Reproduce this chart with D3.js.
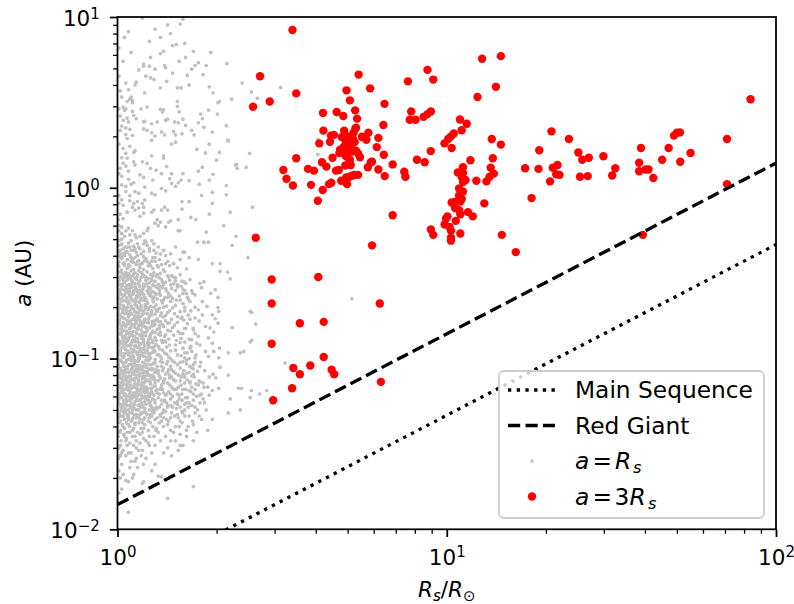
<!DOCTYPE html>
<html><head><meta charset="utf-8">
<script src="https://cdn.jsdelivr.net/npm/d3@7"></script>
<style>body{margin:0;background:#fff}svg text{font-family:"DejaVu Sans",sans-serif}</style>
</head><body><svg id="chart" width="794" height="604"></svg>
<script>
// ---------- data ----------
const xTicks=[1,10,100];
const xTickExp=["0","1","2"];
const yTicks=[0.01,0.1,1,10];
const yTickExp=["\u22122","\u22121","0","1"];
const xMinor=[2,3,4,5,6,7,8,9,20,30,40,50,60,70,80,90];
const yMinor=[0.02,0.03,0.04,0.05,0.06,0.07,0.08,0.09,0.2,0.3,0.4,0.5,0.6,0.7,0.8,0.9,2,3,4,5,6,7,8,9];
const lineR=[1,100];
const mainSeqA=[0.00465,0.465];
const redGiantA=[0.01395,1.395];
const legendLabels=["Main Sequence","Red Giant"];

const redPts=[[3.40,8.4],[2.71,4.5],[5.4,4.6],[3.49,3.57],[2.9,3.2],[2.58,2.98],[4.96,3.72],[5.85,3.82],[5.08,3.25],[6.47,3.1],[4.21,2.74],[4.63,2.78],[4.85,2.63],[5.27,2.84],[5.34,2.54],[6.42,2.33],[4.22,2.16],[5.3,2.25],[4.45,2.02],[4.54,2.04],[4.88,2.16],[5.78,2.1],[5.53,1.99],[6.2,1.96],[4.1,1.82],[4.42,1.86],[5.7,1.91],[6.13,1.73],[4.72,1.6],[5.38,1.59],[6.44,1.56],[4.5,1.5],[3.49,1.49],[4.97,1.52],[5.45,1.51],[5.88,1.41],[4.18,1.41],[4.31,1.33],[6.85,1.37],[4.92,1.35],[5.11,1.36],[5.76,1.32],[3.19,1.27],[3.79,1.29],[3.95,1.26],[4.61,1.26],[4.7,1.27],[6.2,1.28],[5.18,1.18],[5.38,1.19],[5.06,1.16],[6.48,1.17],[3.26,1.13],[4.78,1.1],[4.46,1.07],[4.39,1.05],[4.98,1.05],[3.41,1.03],[3.87,1.04],[4.2,0.97],[4.06,0.84],[6.85,0.69],[2.63,0.51],[5.93,0.46],[4.07,0.3],[2.94,0.29],[2.94,0.21],[6.26,0.21],[3.58,0.161],[4.23,0.164],[2.94,0.122],[4.23,0.102],[3.42,0.088],[3.85,0.091],[3.58,0.081],[4.47,0.086],[4.55,0.081],[3.39,0.067],[6.31,0.073],[2.97,0.057],
[4.91,1.91],[5.01,1.82],[5.12,1.76],[4.87,1.74],[5.19,1.93],[4.98,1.67],[5.15,1.63],[4.8,1.98],[5.25,1.85],[5.05,2.0],[4.74,1.67],[5.3,1.65],[5.21,2.1],[5.28,2.22],[5.54,1.98],[5.93,1.42],[4.92,1.55],[5.08,1.46],[5.25,1.19],[4.95,1.15],
[7.62,4.2],[8.74,4.9],[9.1,4.3],[12.8,5.7],[14.6,5.9],[14.1,3.9],[12.4,3.4],[7.8,2.8],[7.72,2.5],[8.04,2.5],[8.5,2.6],[8.74,2.7],[8.95,2.8],[10.97,2.51],[11.5,2.37],[11.1,2.17],[10.5,2.08],[10.3,2.0],[10.1,1.93],[9.84,1.82],[10.35,1.71],[13.7,1.93],[14.6,1.79],[8.94,1.64],[8.12,1.46],[8.57,1.41],[11.8,1.45],[13.8,1.49],[13.6,1.31],[11.2,1.32],[10.8,1.23],[11.2,1.22],[13.9,1.21],[13.5,1.16],[7.43,1.24],[7.49,1.16],[12.3,1.1],[13.2,1.09],[11.1,1.16],[11.4,1.11],[11.2,1.08],[10.9,0.99],[11.2,0.95],[10.9,0.9],[11.1,0.86],[10.35,0.82],[10.65,0.83],[11.0,0.83],[10.6,0.76],[10.9,0.74],[11.0,0.70],[11.6,0.72],[12.0,0.68],[13.0,0.81],[10.05,0.68],[9.95,0.66],[10.65,0.64],[9.85,0.61],[10.2,0.59],[10.3,0.56],[8.95,0.57],[9.1,0.53],[11.0,0.54],[10.3,0.51],[10.3,0.49],[14.7,0.53],[16.2,0.42],[18.1,0.87],[17.3,1.3],[19.0,1.29],[19.1,1.66],[20.8,2.14],[23.5,1.93],[21.0,1.31],[21.7,1.36],[21.5,1.2],[22.0,1.19],[20.6,1.09],[25.1,1.61],[25.8,1.46],[27.0,1.5],[25.4,1.16],[26.8,1.17],[29.9,1.53],[32.5,1.3],[31.8,1.18],[38.9,1.71],[38.4,1.4],[38.4,1.25],[40.2,1.28],[41.0,1.28],[42.4,1.14],[45.1,1.46],[47.2,1.71],[49.0,2.02],[50.0,2.1],[51.1,2.11],[51.2,1.42],[55.0,1.6],[71.0,1.93],[71.0,1.05],[83.7,3.30],[39.4,0.53]];

const grayPts=[[1.19,9.87],[1.58,9.7],[1.42,9.0],[1.55,9.1],[1.05,7.6],[1.01,6.6],[1.47,6.8],[1.51,6.9],[1.38,6.3],[1.35,6.1],[1.92,6.2],[1.26,5.8],[1.61,5.8],[1.2,5.3],[1.2,5.15],[1.25,5.15],[1.39,5.2],[1.4,5.05],[1.54,5.5],[1.76,5.4],[1.72,5.2],[1.68,4.95],[1.86,5.2],[2.15,5.35],[1.16,4.9],[1.3,4.95],[1.47,4.7],[1.22,4.5],[1.26,4.4],[1.29,4.3],[1.63,4.55],[1.41,4.2],[1.14,4.15],[1.13,4.0],[1.06,4.1],[1.65,4.0],[1.35,3.85],[1.52,3.85],[1.56,3.85],[2.39,4.1],[1.02,3.7],[1.08,3.75],[1.21,3.6],[1.95,3.6],[1.1,3.4],[1.09,3.3],[1.11,3.25],[1.07,3.2],[1.11,3.15],[2.22,3.3],[2.04,3.2],[2.02,3.15],[1.52,3.2],[1.52,3.0],[1.04,2.97],[1.06,2.9],[1.05,2.84],[1.11,2.8],[1.18,2.9],[1.23,2.97],[1.35,2.88],[1.38,2.86],[1.37,2.78],[1.54,2.78],[1.89,2.85],[1.79,2.7],[1.81,2.54],[2.01,2.7],[1.02,2.63],[1.04,2.48],[1.07,2.56],[1.08,2.43],[1.12,2.65],[1.14,2.54],[1.2,2.43],[1.21,2.45],[1.27,2.37],[1.32,2.43],[1.4,2.48],[1.42,2.52],[1.49,2.43],[1.53,2.4],[1.58,2.52],[1.61,2.32],[1.68,2.17],[1.76,2.4],[1.83,2.26],[1.94,2.12],[2.14,2.31],[1.02,2.17],[1.06,2.24],[1.09,2.2],[1.2,2.21],[1.23,2.17],[1.27,2.1],[1.3,2.01],[1.36,2.12],[1.39,2.04],[1.48,2.14],[1.5,2.04],[1.57,2.07],[1.71,2.04],[1.11,2.03],[1.07,1.94],[2.16,1.9],[2.55,3.64],[3.13,3.87],[2.66,3.34],
[1.27,1.9],[1.46,1.8],[1.5,1.85],[1.9,1.8],[2.17,1.88],[1.13,1.65],[1.12,1.61],[1.06,1.59],[1.03,1.5],[1.07,1.49],[1.74,1.68],[2.04,1.61],[1.38,1.54],[1.38,1.49],[1.27,1.54],[1.19,1.42],[1.12,1.42],[1.13,1.36],[1.04,1.39],[1.06,1.34],[1.23,1.39],[1.26,1.3],[1.31,1.27],[1.36,1.21],[1.46,1.21],[1.41,1.33],[1.81,1.32],[1.76,1.25],[2.28,1.36],[2.31,1.3],[2.46,1.32],[1.58,1.21],[1.01,1.21],[1.03,1.17],[1.08,1.12],[1.17,1.19],[1.2,1.15],[1.28,1.11],[1.44,1.13],[1.46,1.06],[1.53,1.07],[1.56,1.11],[1.5,1.02],[1.65,1.1],[1.9,1.11],[1.1,1.05],[1.12,1.07],[1.03,1.04],[1.06,1.02],[1.21,1.01],[1.36,0.99],[1.4,0.96],[1.77,1.05],[2.14,1.03],[2.14,0.91],[1.94,0.94],[1.13,0.95],[1.16,0.93],[1.27,0.93],[1.3,0.91],[1.01,0.81],[1.04,0.79],[1.09,0.84],[1.12,0.81],[1.15,0.83],[1.19,0.81],[1.21,0.85],[1.2,0.77],[1.16,0.76],[1.11,0.77],[1.13,0.74],[1.27,0.72],[1.29,0.74],[1.39,0.77],[1.36,0.74],[1.42,0.74],[1.57,0.83],[1.65,0.83],[1.57,0.75],[1.94,0.81],[2.2,0.72],[1.2,0.71],[1.17,0.68],[1.32,0.65],[1.35,0.63],[1.3,0.62],[1.33,0.6],[1.45,0.64],[1.53,0.65],[1.67,0.67],[1.73,0.65],[1.01,0.6],[1.03,0.59],[1.06,0.56],[1.03,0.54],[1.08,0.58],[1.11,0.56],[1.09,0.53],[1.14,0.51],[1.17,0.52],[1.2,0.54],[1.23,0.56],[1.24,0.58],[1.4,0.59],[1.43,0.63],[1.53,0.56],[1.55,0.56],[1.86,0.55],[2.29,0.52],[1.01,0.49],[1.03,0.47],[1.06,0.45],[1.02,0.43],[1.04,0.41],[1.07,0.42],[1.09,0.45],[1.01,0.4],[1.03,0.39],[1.12,0.43],[1.16,0.45],[1.2,0.47],[1.21,0.49],[1.27,0.49],[1.33,0.45],[1.29,0.43],[1.35,0.41],[1.4,0.4],[1.45,0.41],[1.75,0.48],[1.83,0.48],[1.89,0.48],[1.58,0.42],[1.65,0.39],[1.76,0.38],[1.94,0.36],[2.05,0.36],[2.23,0.46],[2.49,0.39],[2.52,1.59],[1.11,0.38],[1.15,0.37],[1.19,0.36],[1.23,0.37],[1.26,0.35],[1.3,0.39],[1.32,0.35],[1.4,0.36],[1.48,0.36],
[1.005,0.65],[1.02,0.7],[1.04,0.66],[1.07,0.72],[1.01,0.9],[1.03,0.85],[1.06,0.95],[1.09,0.9],[1.02,1.3],[1.08,1.25],[1.01,1.8],[1.04,1.7],[1.09,1.75],[1.03,2.3],[1.06,2.05],[1.01,2.9],[1.03,3.4],[1.01,4.5],[1.04,5.5],[1.1,6.2],[1.08,8.2],[1.3,8.5],[1.25,7.2],[1.35,7.6],[1.45,8.0],[1.6,7.0],[1.7,6.3],[1.82,4.6],[1.9,3.9],[1.85,1.6],[2.0,1.45],[1.95,1.2],[2.1,0.6],[1.9,0.7],[1.8,0.9],
[2.57,0.77],[2.3,1.37],[4.06,1.93],[4.06,1.57],[2.56,0.186],[2.63,0.159],[2.56,0.128],[2.53,0.125],[2.42,0.11],[2.36,0.108],[3.23,0.094],[5.15,0.224],[2.38,0.067],[2.55,0.065],[2.7,0.062],[2.84,0.065],[2.53,0.059],
[2.05,0.324],[2.16,0.321],[2.2,0.293],[1.78,0.276],[1.83,0.282],[1.61,0.276],[1.46,0.306],[1.5,0.298],[1.98,0.253],[2.02,0.228],[1.92,0.241],[1.69,0.241],[1.72,0.236],[1.81,0.216],[1.64,0.223],[1.66,0.216],[2.02,0.199],[2.03,0.189],[1.87,0.202],[1.76,0.193],[1.81,0.18],[1.72,0.173],[1.77,0.166],[1.94,0.18],[1.98,0.171],[2.53,0.189],[2.23,0.152],[2.02,0.161],[1.91,0.151],[1.96,0.143],[1.85,0.154],[1.7,0.147],[1.76,0.135],[1.68,0.129],[1.74,0.123],[1.89,0.132],[1.94,0.123],[2.04,0.115],[1.96,0.11],[2.03,0.101],[2.17,0.108],[1.85,0.11],[1.89,0.103],[1.72,0.101],[1.79,0.095],[1.7,0.092],[2.05,0.089],[1.95,0.081],[1.99,0.077],[2.17,0.08],[2.33,0.067],[2.03,0.067],[1.94,0.065],[1.78,0.073],[1.83,0.068],[1.7,0.081],[1.66,0.073],
[2.2,0.058],[2.36,0.05],[2.17,0.048],[1.94,0.044],[1.88,0.038],[1.74,0.037],[1.7,0.033],[1.55,0.031],[1.42,0.03],[1.33,0.0205],[1.36,0.0203],[1.27,0.022],[1.19,0.0186],[1.11,0.02],[1.06,0.0193],[1.03,0.0172],[1.7,0.0178],[1.42,0.0152],[1.08,0.0126],[1.01,0.0163],
[1.52,0.062],[1.58,0.066],[1.63,0.059],[1.67,0.064],[1.74,0.06],[1.82,0.058],[1.9,0.061],[1.55,0.052],[1.62,0.055],[1.72,0.052],[1.78,0.055],[1.86,0.05],[1.53,0.045],[1.58,0.048],[1.65,0.046],[1.72,0.048],[1.8,0.044],[1.57,0.042],[1.64,0.04],[1.7,0.041],[1.48,0.037],[1.55,0.036],[1.62,0.035],[1.45,0.033],[1.53,0.029],[1.38,0.028],[1.46,0.027],[1.55,0.074],[1.6,0.078],[1.65,0.083],[1.7,0.087],[1.78,0.09],[1.84,0.085],[1.9,0.078],[1.82,0.072],[1.88,0.068],[1.55,0.095],[1.6,0.108],[1.68,0.11],[1.78,0.12],[1.65,0.13],[1.72,0.14],[1.6,0.15],[1.66,0.17],[1.72,0.2],[1.68,0.25],[1.8,0.26],[1.6,0.28],
[1.01,0.022],[1.04,0.021],[1.09,0.023],[1.13,0.025],[1.03,0.028],[1.16,0.029],[1.2,0.024],
[1.01,0.37],[1.03,0.385],[1.05,0.365],[1.07,0.38],[1.1,0.37],[1.13,0.39],[1.16,0.375],[1.19,0.365],[1.22,0.385],[1.27,0.372],[1.34,0.38],[1.42,0.37],[1.02,0.41],[1.06,0.425],[1.09,0.405],[1.14,0.42],[1.18,0.41],[1.25,0.425],[1.31,0.415],[1.38,0.43],[1.01,0.46],[1.04,0.44],[1.08,0.475],[1.12,0.455],[1.17,0.44],[1.23,0.46],[1.29,0.47],[1.5,0.45],[1.55,0.38],[1.6,0.42],[1.48,0.36],
[1.005,0.355],[1.04,0.36],[1.08,0.355],[1.12,0.365],[1.17,0.355],[1.21,0.375],[1.25,0.36],[1.3,0.37],[1.36,0.355],[1.02,0.395],[1.05,0.4],[1.1,0.39],[1.15,0.4],[1.2,0.395],[1.28,0.39],[1.01,0.425],[1.05,0.41],[1.1,0.43],[1.13,0.44],[1.2,0.425],[1.25,0.44],[1.03,0.465],[1.07,0.45],[1.15,0.47],[1.22,0.48],[1.03,0.5],[1.1,0.49],[1.05,0.52],[1.13,0.53],[1.01,0.56],
[1.01,0.345],[1.03,0.33],[1.05,0.352],[1.07,0.338],[1.09,0.347],[1.12,0.333],[1.14,0.355],[1.17,0.342],[1.2,0.332],[1.24,0.349],[1.28,0.337],[1.33,0.344],[1.38,0.331],[1.44,0.35],[1.52,0.34],[1.62,0.335],
[1.00,0.315],[1.02,0.302],[1.025,0.325],[1.04,0.31],[1.06,0.32],[1.065,0.303],[1.08,0.314],[1.1,0.326],[1.11,0.305],[1.13,0.318],[1.15,0.309],[1.16,0.327],[1.19,0.313],[1.21,0.302],[1.23,0.322],[1.26,0.31],[1.29,0.319],[1.31,0.304],[1.35,0.315],[1.39,0.323],[1.42,0.306],[1.55,0.31],
[1.01,0.285],[1.02,0.272],[1.035,0.293],[1.05,0.279],[1.07,0.288],[1.085,0.271],[1.09,0.297],[1.11,0.282],[1.13,0.274],[1.14,0.291],[1.16,0.28],[1.18,0.298],[1.2,0.273],[1.22,0.287],[1.25,0.277],[1.27,0.294],[1.3,0.283],[1.33,0.272],[1.36,0.29],[1.4,0.279],[1.44,0.287],[1.48,0.274],[1.57,0.284],[1.66,0.29],
[1.0,0.26],[1.015,0.248],[1.03,0.265],[1.045,0.252],[1.06,0.262],[1.075,0.247],[1.09,0.258],[1.1,0.268],[1.12,0.25],[1.135,0.261],[1.15,0.246],[1.17,0.264],[1.19,0.253],[1.21,0.266],[1.23,0.249],[1.26,0.259],[1.28,0.247],[1.31,0.263],[1.34,0.252],[1.37,0.26],[1.41,0.249],[1.46,0.257],[1.52,0.262],[1.6,0.25],
[1.005,0.232],[1.02,0.241],[1.03,0.223],[1.05,0.236],[1.065,0.227],[1.08,0.243],[1.095,0.229],[1.11,0.238],[1.13,0.222],[1.145,0.234],[1.16,0.244],[1.18,0.226],[1.2,0.237],[1.22,0.224],[1.24,0.24],[1.27,0.23],[1.3,0.242],[1.32,0.223],[1.35,0.235],[1.39,0.227],[1.43,0.239],[1.47,0.225],[1.54,0.233],[1.63,0.228],
[1.0,0.21],[1.015,0.199],[1.025,0.216],[1.04,0.205],[1.055,0.218],[1.07,0.2],[1.085,0.212],[1.1,0.203],[1.115,0.217],[1.13,0.207],[1.15,0.198],[1.165,0.213],[1.18,0.204],[1.2,0.219],[1.215,0.2],[1.235,0.211],[1.26,0.202],[1.285,0.215],[1.31,0.206],[1.34,0.197],[1.37,0.212],[1.41,0.203],[1.45,0.216],[1.5,0.205],[1.58,0.21],
[1.005,0.188],[1.02,0.179],[1.035,0.194],[1.05,0.183],[1.06,0.196],[1.08,0.178],[1.09,0.19],[1.105,0.182],[1.12,0.195],[1.14,0.186],[1.155,0.177],[1.17,0.192],[1.19,0.181],[1.21,0.193],[1.23,0.184],[1.25,0.178],[1.27,0.19],[1.3,0.182],[1.33,0.195],[1.36,0.185],[1.4,0.179],[1.44,0.191],[1.49,0.183],[1.55,0.188],[1.64,0.18],
[1.0,0.168],[1.012,0.16],[1.025,0.174],[1.04,0.163],[1.055,0.171],[1.07,0.159],[1.08,0.175],[1.095,0.166],[1.11,0.158],[1.125,0.172],[1.14,0.162],[1.16,0.169],[1.175,0.176],[1.19,0.161],[1.21,0.17],[1.23,0.163],[1.25,0.175],[1.275,0.165],[1.3,0.159],[1.32,0.171],[1.35,0.164],[1.38,0.175],[1.42,0.161],[1.46,0.17],[1.52,0.163],[1.59,0.168],
[1.005,0.149],[1.02,0.142],[1.03,0.155],[1.045,0.146],[1.06,0.153],[1.075,0.141],[1.09,0.15],[1.1,0.157],[1.115,0.144],[1.13,0.152],[1.145,0.14],[1.16,0.156],[1.18,0.147],[1.195,0.142],[1.21,0.154],[1.23,0.145],[1.25,0.151],[1.27,0.141],[1.29,0.156],[1.32,0.148],[1.35,0.143],[1.38,0.154],[1.42,0.146],[1.47,0.152],[1.53,0.144],[1.61,0.15],
[1.0,0.132],[1.015,0.126],[1.028,0.138],[1.04,0.129],[1.055,0.136],[1.07,0.127],[1.085,0.134],[1.1,0.139],[1.11,0.128],[1.125,0.135],[1.14,0.13],[1.155,0.125],[1.17,0.137],[1.185,0.131],[1.2,0.126],[1.22,0.136],[1.24,0.129],[1.26,0.138],[1.28,0.127],[1.3,0.133],[1.33,0.139],[1.36,0.128],[1.39,0.135],[1.43,0.13],[1.48,0.137],[1.56,0.131],
[1.005,0.118],[1.02,0.112],[1.035,0.123],[1.05,0.115],[1.06,0.121],[1.075,0.111],[1.09,0.119],[1.105,0.124],[1.12,0.113],[1.135,0.12],[1.15,0.116],[1.165,0.11],[1.18,0.122],[1.195,0.114],[1.21,0.119],[1.23,0.111],[1.25,0.123],[1.27,0.116],[1.29,0.112],[1.31,0.121],[1.34,0.114],[1.37,0.124],[1.41,0.117],[1.45,0.111],[1.5,0.12],[1.58,0.115],[1.67,0.118],
[1.0,0.104],[1.012,0.099],[1.025,0.108],[1.04,0.101],[1.05,0.107],[1.065,0.098],[1.08,0.105],[1.095,0.1],[1.11,0.109],[1.12,0.102],[1.135,0.097],[1.15,0.106],[1.165,0.1],[1.18,0.109],[1.2,0.103],[1.22,0.098],[1.24,0.107],[1.26,0.101],[1.28,0.109],[1.3,0.099],[1.33,0.105],[1.36,0.1],[1.39,0.108],[1.43,0.102],[1.47,0.097],[1.52,0.105],[1.6,0.101],
[1.005,0.093],[1.02,0.088],[1.03,0.096],[1.045,0.09],[1.06,0.095],[1.07,0.087],[1.085,0.092],[1.1,0.097],[1.11,0.089],[1.125,0.094],[1.14,0.087],[1.155,0.096],[1.17,0.091],[1.19,0.086],[1.205,0.094],[1.22,0.089],[1.24,0.097],[1.26,0.092],[1.28,0.087],[1.3,0.095],[1.32,0.09],[1.35,0.096],[1.38,0.088],[1.41,0.093],[1.45,0.09],[1.49,0.095],[1.55,0.088],[1.62,0.093],
[1.0,0.082],[1.015,0.078],[1.025,0.085],[1.04,0.08],[1.055,0.086],[1.065,0.077],[1.08,0.083],[1.095,0.079],[1.105,0.086],[1.12,0.081],[1.135,0.077],[1.15,0.084],[1.165,0.079],[1.18,0.086],[1.195,0.082],[1.21,0.077],[1.23,0.084],[1.25,0.08],[1.27,0.086],[1.29,0.078],[1.31,0.083],[1.34,0.079],[1.37,0.085],[1.4,0.081],[1.44,0.077],[1.48,0.084],[1.53,0.08],[1.59,0.085],[1.68,0.079],
[1.005,0.073],[1.02,0.069],[1.03,0.076],[1.045,0.071],[1.06,0.075],[1.07,0.068],[1.085,0.073],[1.1,0.07],[1.115,0.076],[1.13,0.071],[1.145,0.067],[1.16,0.074],[1.175,0.07],[1.19,0.076],[1.205,0.072],[1.22,0.068],[1.24,0.075],[1.26,0.071],[1.28,0.076],[1.3,0.069],[1.33,0.074],[1.36,0.07],[1.39,0.076],[1.42,0.072],[1.46,0.068],[1.5,0.074],[1.56,0.07],[1.63,0.075],[1.73,0.071],
[1.0,0.064],[1.012,0.061],[1.025,0.067],[1.04,0.063],[1.05,0.066],[1.065,0.06],[1.08,0.065],[1.09,0.062],[1.105,0.067],[1.12,0.063],[1.135,0.06],[1.15,0.066],[1.165,0.062],[1.18,0.067],[1.195,0.064],[1.21,0.06],[1.23,0.065],[1.25,0.062],[1.27,0.067],[1.29,0.061],[1.31,0.065],[1.34,0.062],[1.37,0.066],[1.4,0.061],[1.43,0.064],[1.47,0.06],[1.51,0.066],[1.57,0.062],[1.65,0.065],[1.78,0.061],
[1.005,0.057],[1.02,0.054],[1.03,0.059],[1.045,0.055],[1.06,0.058],[1.07,0.053],[1.085,0.057],[1.1,0.055],[1.11,0.059],[1.125,0.054],[1.14,0.058],[1.155,0.053],[1.17,0.057],[1.185,0.055],[1.2,0.059],[1.22,0.054],[1.24,0.057],[1.26,0.053],[1.28,0.058],[1.3,0.055],[1.33,0.059],[1.36,0.054],[1.39,0.057],[1.42,0.053],[1.45,0.058],[1.49,0.055],[1.54,0.058],[1.6,0.054],[1.7,0.057],
[1.0,0.05],[1.015,0.048],[1.025,0.052],[1.04,0.049],[1.055,0.051],[1.07,0.047],[1.08,0.05],[1.095,0.052],[1.11,0.048],[1.125,0.051],[1.14,0.047],[1.16,0.05],[1.175,0.052],[1.19,0.048],[1.21,0.051],[1.23,0.047],[1.25,0.05],[1.27,0.052],[1.29,0.048],[1.32,0.051],[1.35,0.047],[1.38,0.05],[1.42,0.052],[1.46,0.048],[1.51,0.051],[1.57,0.049],[1.64,0.052],
[1.005,0.045],[1.02,0.043],[1.035,0.046],[1.05,0.044],[1.065,0.042],[1.08,0.046],[1.1,0.043],[1.115,0.045],[1.13,0.042],[1.15,0.046],[1.17,0.044],[1.19,0.042],[1.21,0.045],[1.24,0.043],[1.27,0.046],[1.3,0.044],[1.34,0.042],[1.38,0.045],[1.43,0.043],[1.49,0.046],[1.55,0.043],
[1.0,0.04],[1.02,0.038],[1.035,0.041],[1.05,0.039],[1.07,0.037],[1.09,0.04],[1.11,0.038],[1.13,0.041],[1.15,0.037],[1.18,0.039],[1.21,0.041],[1.24,0.038],[1.28,0.04],[1.33,0.037],[1.38,0.04],[1.45,0.038],
[1.005,0.035],[1.025,0.033],[1.045,0.036],[1.065,0.034],[1.09,0.032],[1.11,0.035],[1.14,0.033],[1.17,0.036],[1.2,0.034],[1.24,0.032],[1.29,0.035],[1.35,0.033],
[1.01,0.03],[1.04,0.029],[1.07,0.031],[1.1,0.028],[1.14,0.03],[1.19,0.029],[1.25,0.031],
[1.005,0.026],[1.03,0.024],[1.06,0.027],[1.1,0.025],[1.15,0.023],[1.22,0.026],[1.3,0.024],
[1.02,0.02],[1.08,0.019],[1.12,0.021],[1.2,0.019],
[1.48,0.3],[1.52,0.27],[1.58,0.255],[1.62,0.24],[1.55,0.22],[1.6,0.2],[1.67,0.19],[1.57,0.175],[1.63,0.16],[1.7,0.15],[1.55,0.14],[1.6,0.125],[1.66,0.115],[1.73,0.105],[1.62,0.098],[1.68,0.088],[1.75,0.084],[1.58,0.081],[1.66,0.072],[1.72,0.066],[1.8,0.062],[1.61,0.059],[1.68,0.053],[1.75,0.05],[1.84,0.055],[1.6,0.046],[1.69,0.043],[1.77,0.046],[1.54,0.04],[1.62,0.038],[1.5,0.033],[1.58,0.031],
[1.01,0.295],[1.03,0.318],[1.045,0.285],[1.06,0.31],[1.075,0.296],[1.1,0.289],[1.12,0.312],[1.145,0.299],[1.17,0.286],[1.2,0.307],[1.24,0.293],[1.28,0.306],[1.34,0.297],
[1.008,0.27],[1.025,0.256],[1.04,0.276],[1.058,0.25],[1.07,0.268],[1.09,0.246],[1.105,0.262],[1.125,0.276],[1.14,0.255],[1.16,0.27],[1.18,0.246],[1.2,0.261],[1.225,0.274],[1.25,0.252],[1.29,0.267],[1.33,0.258],[1.38,0.27],
[1.012,0.226],[1.028,0.238],[1.042,0.219],[1.06,0.242],[1.072,0.214],[1.088,0.235],[1.105,0.222],[1.12,0.244],[1.138,0.216],[1.155,0.23],[1.172,0.219],[1.19,0.242],[1.21,0.229],[1.23,0.215],[1.255,0.234],[1.28,0.221],[1.31,0.237],[1.36,0.218],[1.42,0.228],
[1.005,0.195],[1.018,0.207],[1.035,0.186],[1.048,0.2],[1.065,0.19],[1.078,0.209],[1.093,0.183],[1.11,0.197],[1.128,0.188],[1.142,0.204],[1.16,0.185],[1.178,0.199],[1.195,0.19],[1.215,0.207],[1.24,0.194],[1.265,0.185],[1.29,0.2],[1.32,0.189],[1.38,0.2],
[1.002,0.155],[1.015,0.168],[1.03,0.149],[1.042,0.173],[1.058,0.158],[1.068,0.145],[1.082,0.163],[1.098,0.152],[1.112,0.169],[1.128,0.158],[1.142,0.174],[1.158,0.151],[1.172,0.165],[1.188,0.155],[1.205,0.167],[1.22,0.152],[1.245,0.162],[1.27,0.155],[1.3,0.167],[1.34,0.156],[1.4,0.166],
[1.008,0.128],[1.022,0.141],[1.036,0.133],[1.05,0.124],[1.066,0.14],[1.08,0.13],[1.094,0.121],[1.108,0.137],[1.122,0.127],[1.138,0.143],[1.152,0.131],[1.168,0.122],[1.182,0.139],[1.198,0.13],[1.215,0.142],[1.235,0.124],[1.255,0.134],[1.28,0.145],[1.31,0.128],[1.35,0.137],[1.4,0.125],
[1.004,0.112],[1.018,0.106],[1.032,0.116],[1.046,0.103],[1.058,0.113],[1.072,0.119],[1.086,0.108],[1.1,0.114],[1.114,0.104],[1.128,0.118],[1.142,0.109],[1.158,0.101],[1.172,0.115],[1.188,0.106],[1.205,0.113],[1.222,0.102],[1.24,0.116],[1.262,0.107],[1.29,0.117],[1.32,0.105],[1.37,0.112],
[1.006,0.091],[1.02,0.097],[1.034,0.085],[1.048,0.094],[1.062,0.089],[1.078,0.099],[1.09,0.084],[1.104,0.092],[1.118,0.098],[1.132,0.085],[1.148,0.091],[1.162,0.099],[1.178,0.088],[1.192,0.095],[1.21,0.084],[1.23,0.092],[1.25,0.099],[1.27,0.087],[1.295,0.094],[1.33,0.085],[1.37,0.095],[1.43,0.086],
[1.002,0.076],[1.016,0.081],[1.028,0.072],[1.042,0.078],[1.056,0.083],[1.07,0.073],[1.084,0.079],[1.098,0.075],[1.112,0.082],[1.126,0.074],[1.14,0.08],[1.156,0.076],[1.17,0.082],[1.186,0.072],[1.2,0.079],[1.218,0.074],[1.236,0.081],[1.256,0.073],[1.278,0.08],[1.3,0.075],[1.33,0.082],[1.38,0.074],[1.44,0.08],
[1.008,0.067],[1.022,0.063],[1.036,0.069],[1.05,0.061],[1.064,0.066],[1.078,0.071],[1.092,0.064],[1.106,0.06],[1.12,0.068],[1.136,0.062],[1.15,0.07],[1.166,0.065],[1.18,0.061],[1.196,0.069],[1.212,0.063],[1.23,0.067],[1.25,0.06],[1.27,0.064],[1.29,0.069],[1.32,0.063],[1.36,0.068],[1.41,0.062],[1.48,0.066],
[1.004,0.055],[1.018,0.059],[1.032,0.052],[1.046,0.057],[1.06,0.054],[1.074,0.06],[1.088,0.053],[1.102,0.058],[1.118,0.051],[1.132,0.056],[1.148,0.06],[1.162,0.054],[1.178,0.058],[1.194,0.052],[1.21,0.056],[1.23,0.06],[1.25,0.055],[1.275,0.051],[1.3,0.057],[1.34,0.052],[1.39,0.056],[1.45,0.053],[1.52,0.056],
[1.01,0.047],[1.026,0.05],[1.042,0.046],[1.058,0.049],[1.075,0.045],[1.09,0.048],[1.108,0.044],[1.125,0.047],[1.142,0.05],[1.16,0.045],[1.18,0.048],[1.2,0.044],[1.22,0.048],[1.25,0.045],[1.28,0.049],[1.32,0.045],[1.37,0.048],[1.41,0.044],
[1.015,0.322],[1.05,0.3],[1.085,0.308],[1.13,0.296],[1.18,0.32],[1.22,0.3],[1.27,0.285],[1.32,0.31],[1.37,0.28],[1.43,0.3],[1.5,0.285],
[1.01,0.252],[1.035,0.27],[1.065,0.255],[1.1,0.275],[1.13,0.262],[1.165,0.25],[1.2,0.268],[1.24,0.262],[1.28,0.27],[1.35,0.265],[1.4,0.256],[1.45,0.27],[1.5,0.25],[1.56,0.265],
[1.02,0.219],[1.04,0.232],[1.075,0.22],[1.1,0.236],[1.14,0.226],[1.17,0.237],[1.21,0.22],[1.26,0.24],[1.29,0.228],[1.34,0.242],[1.38,0.22],[1.45,0.232],[1.51,0.22],[1.58,0.24],
[1.01,0.18],[1.04,0.192],[1.07,0.184],[1.1,0.198],[1.13,0.178],[1.16,0.195],[1.2,0.184],[1.23,0.199],[1.27,0.18],[1.31,0.193],[1.35,0.178],[1.42,0.186],[1.47,0.198],[1.52,0.176],[1.6,0.19],
[1.01,0.162],[1.035,0.156],[1.07,0.167],[1.1,0.16],[1.135,0.166],[1.17,0.158],[1.2,0.162],[1.24,0.17],[1.28,0.16],[1.33,0.165],[1.37,0.158],[1.44,0.162],[1.49,0.157],[1.56,0.172],
[1.01,0.139],[1.035,0.145],[1.06,0.131],[1.09,0.143],[1.12,0.134],[1.15,0.148],[1.19,0.136],[1.23,0.15],[1.26,0.131],[1.3,0.142],[1.34,0.15],[1.4,0.138],[1.45,0.145],[1.51,0.128],[1.58,0.14],
[1.012,0.121],[1.04,0.118],[1.065,0.126],[1.1,0.12],[1.13,0.126],[1.16,0.117],[1.2,0.123],[1.24,0.12],[1.28,0.124],[1.33,0.118],[1.39,0.127],[1.44,0.12],[1.5,0.112],[1.55,0.124],[1.63,0.108],
[1.01,0.109],[1.035,0.103],[1.07,0.108],[1.1,0.103],[1.13,0.11],[1.17,0.104],[1.21,0.108],[1.25,0.103],[1.3,0.11],[1.35,0.103],[1.41,0.106],[1.45,0.1],[1.56,0.104],[1.65,0.1],
[1.012,0.087],[1.04,0.093],[1.07,0.09],[1.1,0.085],[1.13,0.091],[1.16,0.087],[1.2,0.09],[1.245,0.087],[1.28,0.093],[1.31,0.086],[1.36,0.09],[1.42,0.096],[1.46,0.086],[1.52,0.092],[1.58,0.096],[1.66,0.09],[1.72,0.095],
[1.008,0.079],[1.035,0.082],[1.06,0.079],[1.09,0.077],[1.125,0.084],[1.16,0.08],[1.19,0.078],[1.225,0.08],[1.265,0.077],[1.3,0.083],[1.35,0.077],[1.42,0.083],[1.46,0.078],[1.5,0.082],[1.56,0.078],[1.62,0.082],[1.71,0.078],[1.77,0.074],
[1.012,0.07],[1.038,0.074],[1.065,0.07],[1.095,0.074],[1.125,0.068],[1.155,0.072],[1.19,0.07],[1.225,0.074],[1.26,0.067],[1.3,0.072],[1.35,0.066],[1.38,0.072],[1.44,0.07],[1.48,0.075],[1.53,0.068],[1.6,0.072],[1.68,0.068],[1.76,0.07],
[1.01,0.062],[1.032,0.065],[1.058,0.062],[1.086,0.068],[1.115,0.061],[1.145,0.064],[1.175,0.062],[1.205,0.066],[1.24,0.063],[1.28,0.062],[1.32,0.066],[1.38,0.063],[1.45,0.062],[1.49,0.066],[1.54,0.061],[1.61,0.066],[1.7,0.062],
[1.01,0.058],[1.04,0.053],[1.065,0.056],[1.095,0.059],[1.12,0.053],[1.15,0.057],[1.19,0.053],[1.22,0.058],[1.26,0.056],[1.31,0.052],[1.36,0.057],[1.41,0.055],[1.47,0.052],[1.52,0.054],[1.57,0.057],[1.65,0.055],
[1.02,0.046],[1.05,0.048],[1.08,0.044],[1.11,0.05],[1.14,0.045],[1.17,0.047],[1.21,0.049],[1.26,0.047],[1.3,0.05],[1.35,0.046],[1.4,0.049],[1.45,0.045],[1.52,0.047],[1.6,0.05],
[1.01,0.042],[1.04,0.04],[1.08,0.041],[1.12,0.039],[1.16,0.042],[1.2,0.039],[1.26,0.042],[1.31,0.039],[1.36,0.043],[1.42,0.041],[1.5,0.04],
[1.015,0.037],[1.05,0.035],[1.09,0.037],[1.13,0.035],[1.19,0.037],[1.25,0.035],[1.31,0.038],[1.4,0.035],
[1.02,0.031],[1.06,0.033],[1.12,0.031],[1.17,0.032],[1.22,0.033],[1.3,0.031],
[1.02,0.027],[1.08,0.028],[1.14,0.026],[1.18,0.027],[1.27,0.028]];

// ---------- layout ----------
const W=794,H=604;
const M={left:117.5,right:776,top:17,bottom:529.3};
const FS_TICK=21.5, FS_SUP=15, FS_LAB=21.5, FS_LEG=23.3;
const x=d3.scaleLog().domain([1,100]).range([M.left,M.right]);
const y=d3.scaleLog().domain([0.01,10]).range([M.bottom,M.top]);
const svg=d3.select("#chart");
svg.append("rect").attr("width",W).attr("height",H).attr("fill","#fff");
svg.append("defs").append("clipPath").attr("id","clip").append("rect")
  .attr("x",M.left).attr("y",M.top).attr("width",M.right-M.left).attr("height",M.bottom-M.top);
const plot=svg.append("g").attr("clip-path","url(#clip)");

// scatter (drawn below lines, like matplotlib zorder)
plot.append("g").selectAll("circle").data(grayPts).join("circle")
  .attr("cx",d=>x(d[0])).attr("cy",d=>y(d[1])).attr("r",1.85).attr("fill","#c0c0c0");
plot.append("g").selectAll("circle").data(redPts).join("circle")
  .attr("cx",d=>x(d[0])).attr("cy",d=>y(d[1])).attr("r",4.2).attr("fill","#ff0000");

const line=d3.line().x(d=>x(d[0])).y(d=>y(d[1]));
const msData=lineR.map((r,i)=>[r,mainSeqA[i]]);
const rgData=lineR.map((r,i)=>[r,redGiantA[i]]);
plot.append("path").datum(msData).attr("d",line).attr("fill","none")
  .attr("stroke","#000").attr("stroke-width",3.3).attr("stroke-dasharray","3.3,5.4");
plot.append("path").datum(rgData).attr("d",line).attr("fill","none")
  .attr("stroke","#000").attr("stroke-width",3.3).attr("stroke-dasharray","12.2,5.3");

// axes
function styleAxis(g){g.attr("font-family","DejaVu Sans").attr("font-size",FS_TICK);g.select(".domain").remove();}
const gx=svg.append("g").attr("transform",`translate(0,${M.bottom})`)
  .call(d3.axisBottom(x).tickValues(xTicks).tickSize(7.7).tickSizeOuter(0).tickFormat(()=>""));
styleAxis(gx);
gx.selectAll(".tick line").attr("stroke-width",1.76);
gx.selectAll(".tick text").each(function(d,i){
  const t=d3.select(this).attr("y",35.7).attr("dy",0).attr("fill","#000");
  t.append("tspan").text("10");
  t.append("tspan").attr("font-size",FS_SUP).attr("dy",-8).text(xTickExp[i]);
});
const gxm=svg.append("g").attr("transform",`translate(0,${M.bottom})`)
  .call(d3.axisBottom(x).tickValues(xMinor).tickSize(4.4).tickSizeOuter(0).tickFormat(()=>""));
styleAxis(gxm); gxm.selectAll(".tick line").attr("stroke-width",1.3); gxm.selectAll("text").remove();

const gy=svg.append("g").attr("transform",`translate(${M.left},0)`)
  .call(d3.axisLeft(y).tickValues(yTicks).tickSize(7.7).tickPadding(10).tickSizeOuter(0).tickFormat(()=>""));
styleAxis(gy);
gy.selectAll(".tick line").attr("stroke-width",1.76);
gy.selectAll(".tick text").each(function(d,i){
  const t=d3.select(this).attr("dy",8.3).attr("fill","#000");
  t.append("tspan").text("10");
  t.append("tspan").attr("font-size",FS_SUP).attr("dy",-7).text(yTickExp[i]);
});
const gym=svg.append("g").attr("transform",`translate(${M.left},0)`)
  .call(d3.axisLeft(y).tickValues(yMinor).tickSize(4.4).tickSizeOuter(0).tickFormat(()=>""));
styleAxis(gym); gym.selectAll(".tick line").attr("stroke-width",1.3); gym.selectAll("text").remove();

// frame
svg.append("rect").attr("x",M.left).attr("y",M.top).attr("width",M.right-M.left).attr("height",M.bottom-M.top)
  .attr("fill","none").attr("stroke","#000").attr("stroke-width",1.76);

// axis labels
const xl=svg.append("text").attr("x",(M.left+M.right)/2).attr("y",597).attr("text-anchor","middle")
  .attr("font-size",FS_LAB).attr("fill","#000");
xl.append("tspan").attr("font-style","italic").text("R");
xl.append("tspan").attr("font-style","italic").attr("font-size",15).attr("dy",4).text("s");
xl.append("tspan").attr("dy",-4).text("/");
xl.append("tspan").attr("font-style","italic").text("R");
xl.append("tspan").attr("font-size",15).attr("dy",4).text("\u2299");
const yl=svg.append("text").attr("transform",`translate(31,${(M.top+M.bottom)/2}) rotate(-90)`)
  .attr("text-anchor","middle").attr("font-size",FS_LAB).attr("fill","#000");
yl.append("tspan").attr("font-style","italic").text("a");
yl.append("tspan").text(" (AU)");

// legend
const lg=svg.append("g");
lg.append("rect").attr("x",499).attr("y",371).attr("width",265).attr("height",147).attr("rx",5)
  .attr("fill","#fff").attr("fill-opacity",0.8).attr("stroke","#cccccc").attr("stroke-width",1.76);
const rows=[390,425.5,461,496.5];
lg.append("line").attr("x1",508).attr("x2",555).attr("y1",rows[0]).attr("y2",rows[0])
  .attr("stroke","#000").attr("stroke-width",3.3).attr("stroke-dasharray","3.3,5.4");
lg.append("line").attr("x1",508).attr("x2",555).attr("y1",rows[1]).attr("y2",rows[1])
  .attr("stroke","#000").attr("stroke-width",3.3).attr("stroke-dasharray","12.2,5.3");
lg.append("circle").attr("cx",532).attr("cy",rows[2]).attr("r",1.85).attr("fill","#c0c0c0");
lg.append("circle").attr("cx",532).attr("cy",rows[3]).attr("r",4.2).attr("fill","#ff0000");
legendLabels.forEach((s,i)=>lg.append("text").attr("x",575).attr("y",rows[i]+8.4).attr("font-size",FS_LEG).attr("fill","#000").text(s));
const t3=lg.append("text").attr("y",rows[2]+8.4).attr("font-size",FS_LEG).attr("fill","#000");
t3.append("tspan").attr("x",575).attr("font-style","italic").text("a");
t3.append("tspan").attr("x",592.5).text("=");
t3.append("tspan").attr("x",615).attr("font-style","italic").text("R");
t3.append("tspan").attr("x",633).attr("dy",4).attr("font-size",16.3).attr("font-style","italic").text("s");
const t4=lg.append("text").attr("y",rows[3]+8.4).attr("font-size",FS_LEG).attr("fill","#000");
t4.append("tspan").attr("x",575).attr("font-style","italic").text("a");
t4.append("tspan").attr("x",592.5).text("=");
t4.append("tspan").attr("x",614.5).text("3");
t4.append("tspan").attr("x",629.5).attr("font-style","italic").text("R");
t4.append("tspan").attr("x",648).attr("dy",4).attr("font-size",16.3).attr("font-style","italic").text("s");
</script></body></html>
